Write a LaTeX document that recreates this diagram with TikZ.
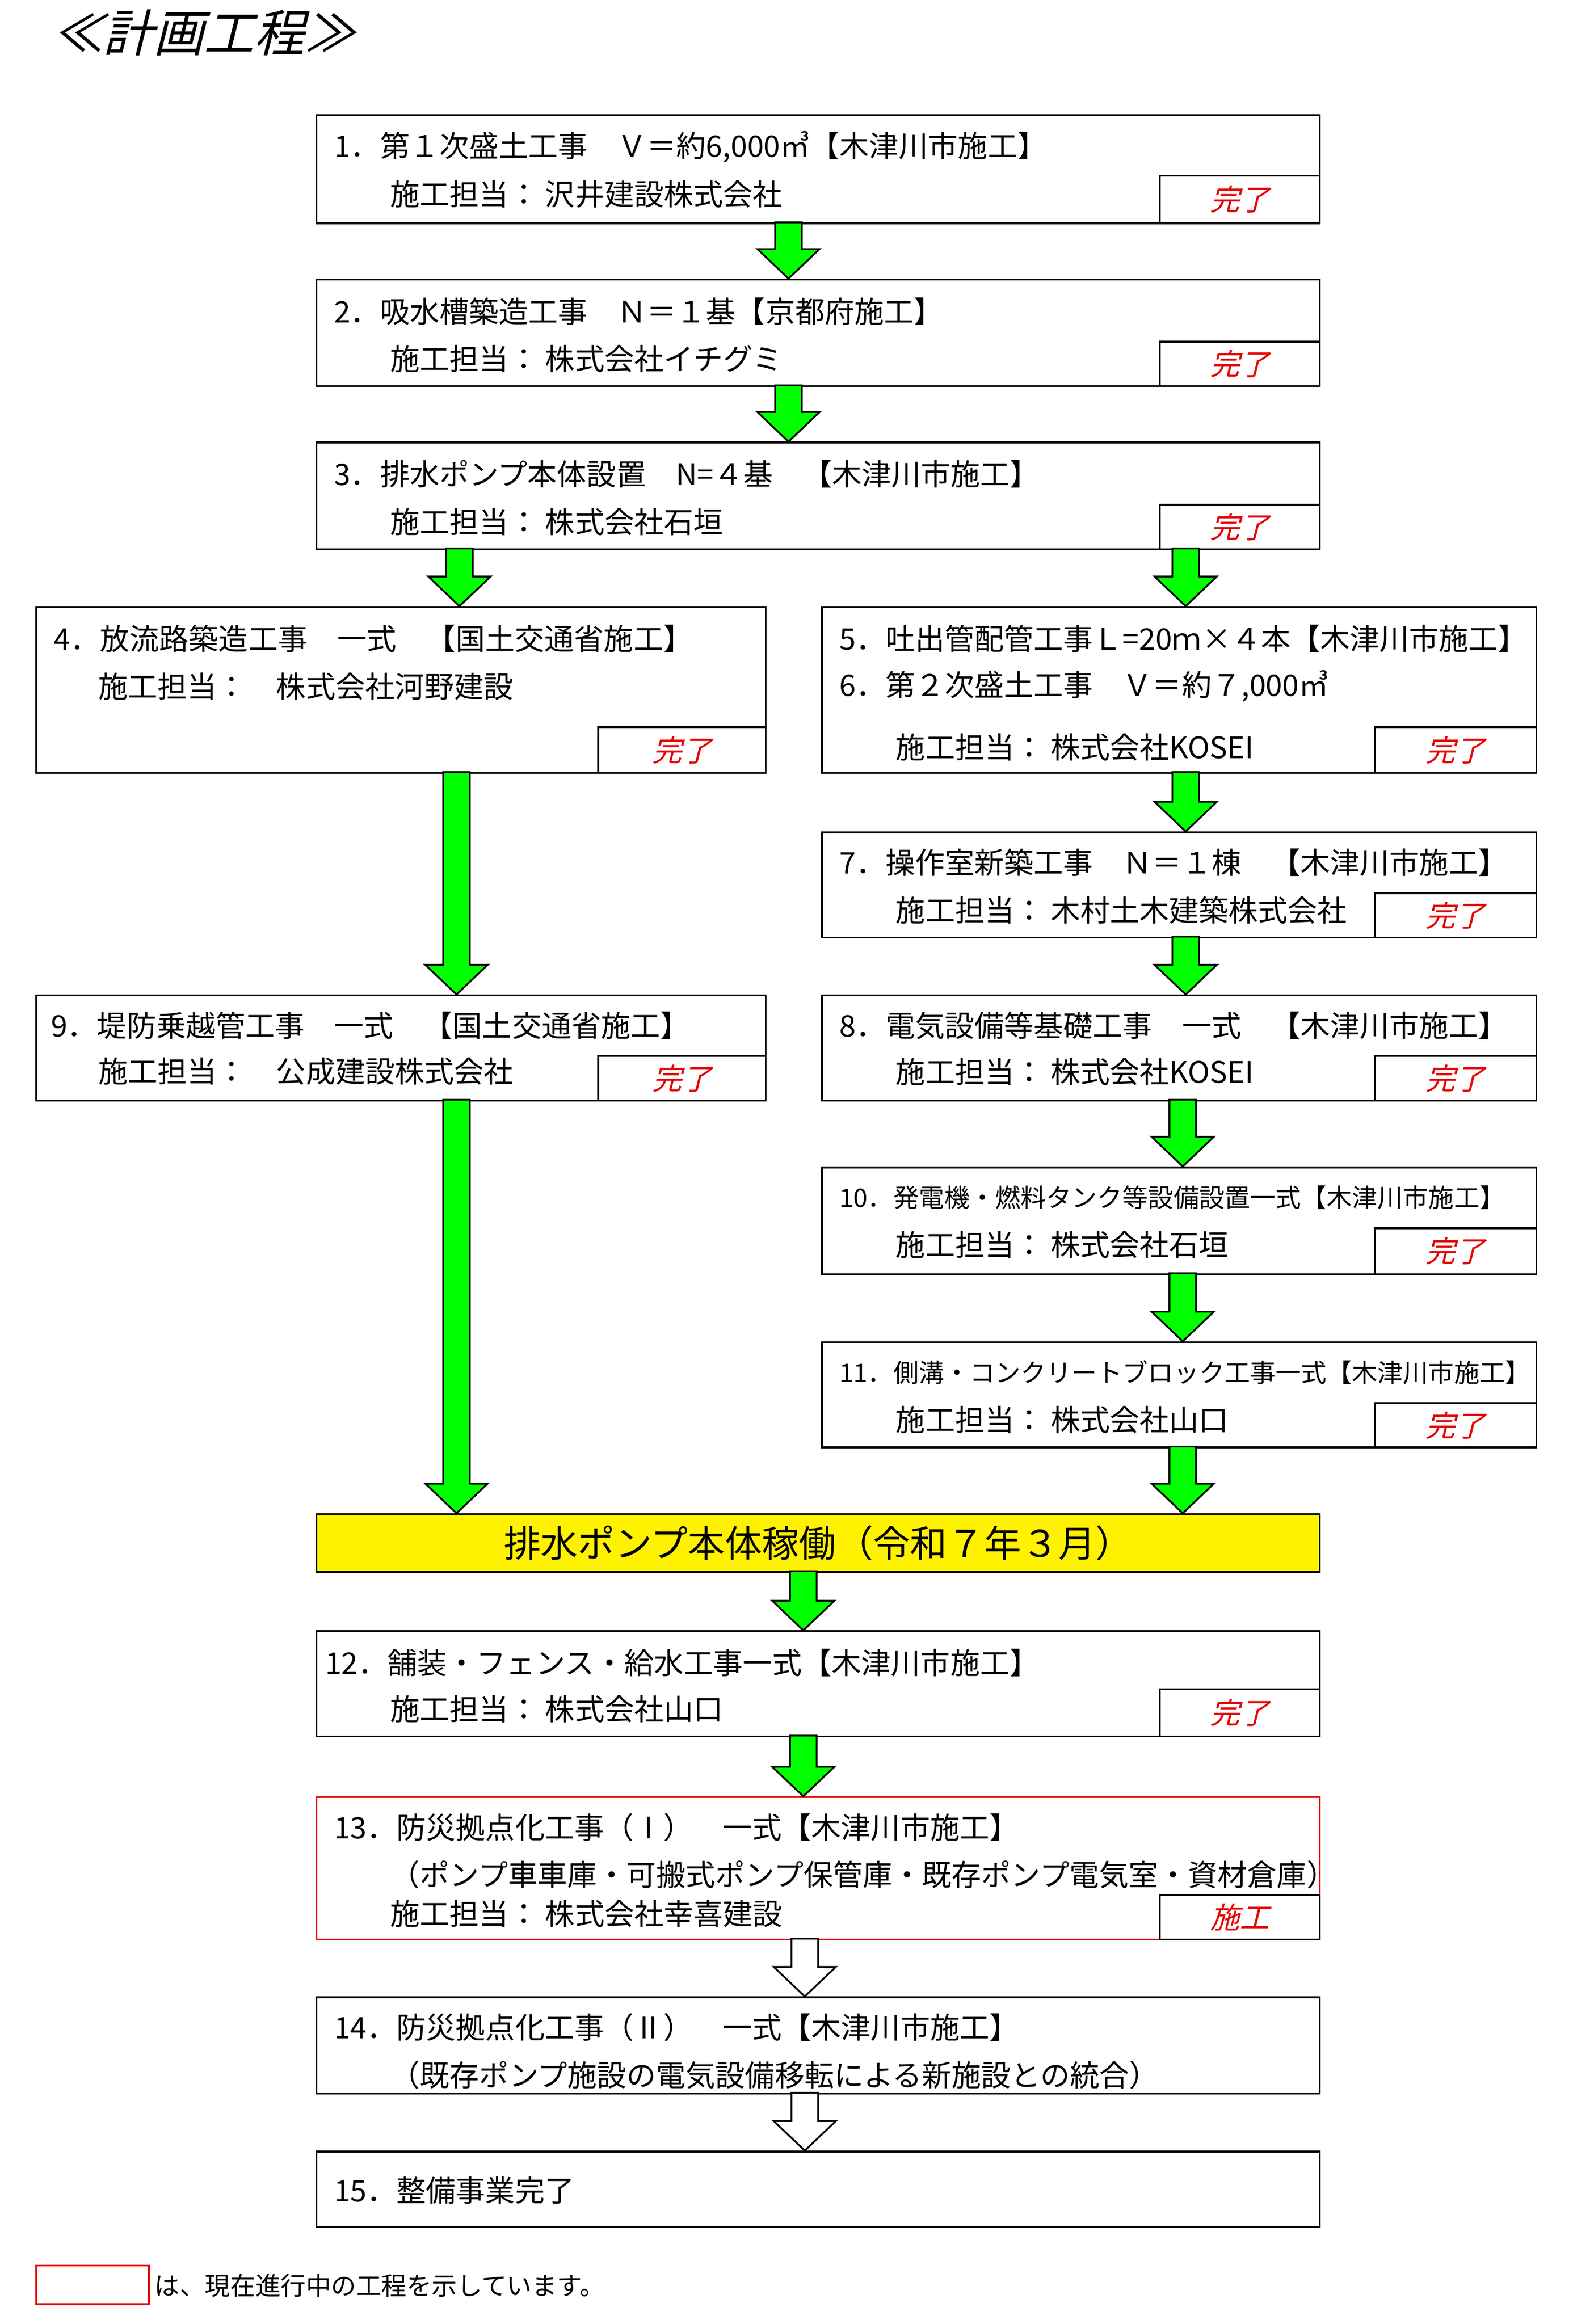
\documentclass[tikz,border=0pt]{standalone}
\usepackage{fontspec}
\setmainfont{Noto Sans CJK JP}
\newfontfamily\jpi[FakeSlant=0.25]{Noto Sans CJK JP}
\definecolor{grn}{RGB}{0,255,0}
\definecolor{kred}{RGB}{230,0,0}
\newcommand\bx[6][black]{\pgfmathsetmacro\bw{(#5-#3)*0.5}\pgfmathsetmacro\bh{(#6-#4)*0.5}\node[draw=#1,line width=0.6pt,minimum width=\bw pt,minimum height=\bh pt,anchor=north west,inner sep=0] (#2) at (#3,#4) {};}
\newcommand\done[6][完了]{\bx{#2}{#3}{#4}{#5}{#6}\node[font=\jpi\fontsize{10}{12}\selectfont,text=kred] (#2t) at (#2.center) {#1};}
\newcommand\farrow[4]{\filldraw[fill=#4,draw=black,line width=0.6pt] ({#1-9},#2) -- ({#1+9},#2) -- ({#1+9},{#3-20}) -- ({#1+21},{#3-20}) -- (#1,#3) -- ({#1-21},{#3-20}) -- ({#1-9},{#3-20}) -- cycle;}
\tikzset{tx/.style={anchor=west,inner sep=0,font=\fontsize{10}{12}\selectfont},sm/.style={anchor=west,inner sep=0,font=\fontsize{8.6}{10}\selectfont}}
\begin{document}
\begin{tikzpicture}[x=0.5pt,y=-0.5pt]
\fill[white] (0,0) rectangle (1061,1568);
\node[anchor=west,inner sep=0,font=\jpi\fontsize{17}{20}\selectfont] (title) at (35,22) {≪計画工程≫};
% boxes
\bx{b1}{213}{77}{890}{150}\done{d1}{782}{118}{890}{150}
\node[tx] (t1a) at (225,99) {1．第１次盛土工事　Ｖ＝約6,000㎥【木津川市施工】};
\node[tx] (t1b) at (263,131) {施工担当：\ 沢井建設株式会社};
\bx{b2}{213}{188}{890}{260}\done{d2}{782}{230}{890}{260}
\node[tx] (t2a) at (225,210) {2．吸水槽築造工事　Ｎ＝１基【京都府施工】};
\node[tx] (t2b) at (263,242) {施工担当：\ 株式会社イチグミ};
\bx{b3}{213}{298}{890}{370}\done{d3}{782}{340}{890}{370}
\node[tx] (t3a) at (225,320) {3．排水ポンプ本体設置　N=４基　【木津川市施工】};
\node[tx] (t3b) at (263,352) {施工担当：\ 株式会社石垣};
\bx{b4}{24}{409}{516}{521}\done{d4}{403}{490}{516}{521}
\node[tx] (t4a) at (36,431) {4．放流路築造工事　一式　【国土交通省施工】};
\node[tx] (t4b) at (66,463) {施工担当：　株式会社河野建設};
\bx{b5}{554}{409}{1036}{521}\done{d5}{927}{490}{1036}{521}
\node[tx] (t5a) at (566,431) {5．吐出管配管工事Ｌ=20ｍ×４本【木津川市施工】};
\node[tx] (t5b) at (566,463) {6．第２次盛土工事　Ｖ＝約７,000㎥};
\node[tx] (t5c) at (604,504) {施工担当：\ 株式会社KOSEI};
\bx{b7}{554}{561}{1036}{632}\done{d7}{927}{602}{1036}{632}
\node[tx] (t7a) at (566,582) {7．操作室新築工事　Ｎ＝１棟　【木津川市施工】};
\node[tx] (t7b) at (604,614) {施工担当：\ 木村土木建築株式会社};
\bx{b9}{24}{671}{516}{742}\done{d9}{403}{712}{516}{742}
\node[tx] (t9a) at (34,692) {9．堤防乗越管工事　一式　【国土交通省施工】};
\node[tx] (t9b) at (66,723) {施工担当：　公成建設株式会社};
\bx{b8}{554}{671}{1036}{742}\done{d8}{927}{712}{1036}{742}
\node[tx] (t8a) at (566,692) {8．電気設備等基礎工事　一式　【木津川市施工】};
\node[tx] (t8b) at (604,723) {施工担当：\ 株式会社KOSEI};
\bx{b10}{554}{787}{1036}{859}\done{d10}{927}{828}{1036}{859}
\node[sm] (t10a) at (566,808) {10．発電機・燃料タンク等設備設置一式【木津川市施工】};
\node[tx] (t10b) at (604,840) {施工担当：\ 株式会社石垣};
\bx{b11}{554}{905}{1036}{976}\done{d11}{927}{946}{1036}{976}
\node[sm] (t11a) at (566,926) {11．側溝・コンクリートブロック工事一式【木津川市施工】};
\node[tx] (t11b) at (604,958) {施工担当：\ 株式会社山口};
\node[draw,fill=yellow,line width=0.6pt,minimum width=338.5pt,minimum height=19.5pt,anchor=north west,inner sep=0,font=\fontsize{12.5}{14}\selectfont] (y) at (213,1021) {排水ポンプ本体稼働（令和７年３月）};
\bx{b12}{213}{1100}{890}{1171}\done{d12}{782}{1139}{890}{1171}
\node[tx] (t12a) at (219,1122) {12．舗装・フェンス・給水工事一式【木津川市施工】};
\node[tx] (t12b) at (263,1153) {施工担当：\ 株式会社山口};
\bx[kred]{b13}{213}{1212}{890}{1308}\done[施工]{d13}{782}{1278}{890}{1308}
\node[tx] (t13a) at (225,1233) {13．防災拠点化工事（Ⅰ）　一式【木津川市施工】};
\node[tx] (t13b) at (263,1265) {（ポンプ車車庫・可搬式ポンプ保管庫・既存ポンプ電気室・資材倉庫）};
\node[tx] (t13c) at (263,1291) {施工担当：\ 株式会社幸喜建設};
\bx{b14}{213}{1347}{890}{1412}
\node[tx] (t14a) at (225,1368) {14．防災拠点化工事（Ⅱ）　一式【木津川市施工】};
\node[tx] (t14b) at (263,1400) {（既存ポンプ施設の電気設備移転による新施設との統合）};
\bx{b15}{213}{1451}{890}{1502}
\node[tx] (t15a) at (225,1478) {15．整備事業完了};
\bx[kred]{leg}{24}{1528}{100}{1554}
\node[anchor=west,inner sep=0,font=\fontsize{8.5}{10}\selectfont] (legt) at (104,1542) {は、現在進行中の工程を示しています。};
% arrows
\farrow{532}{150}{188}{grn}
\farrow{532}{260}{298}{grn}
\farrow{310}{370}{409}{grn}
\farrow{800}{370}{409}{grn}
\farrow{800}{521}{561}{grn}
\farrow{800}{632}{671}{grn}
\farrow{798}{742}{787}{grn}
\farrow{798}{859}{905}{grn}
\farrow{798}{976}{1021}{grn}
\farrow{308}{521}{671}{grn}
\farrow{308}{742}{1021}{grn}
\farrow{542}{1060}{1100}{grn}
\farrow{542}{1171}{1212}{grn}
\farrow{543}{1308}{1347}{white}
\farrow{543}{1412}{1451}{white}
\end{tikzpicture}
\end{document}
